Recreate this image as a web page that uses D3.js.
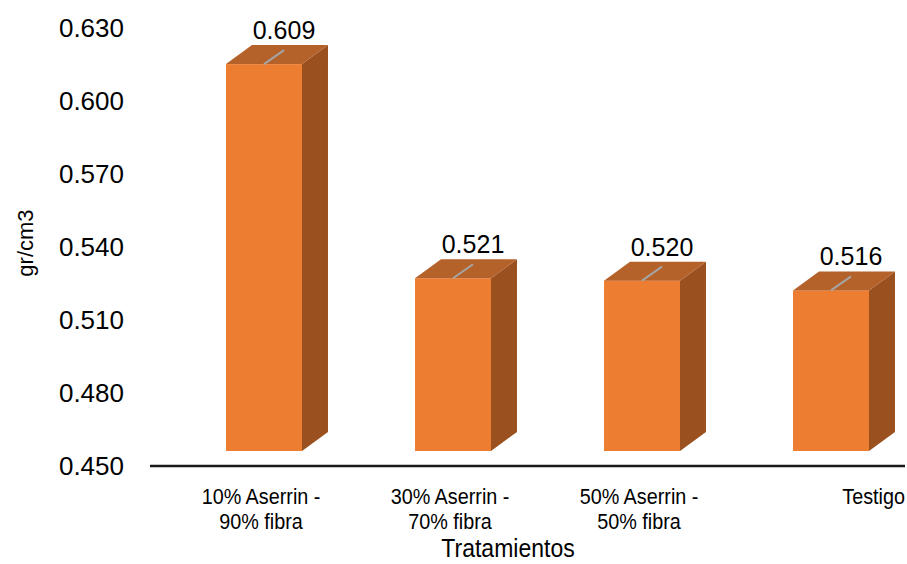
<!DOCTYPE html>
<html>
<head>
<meta charset="utf-8">
<script src="https://cdn.jsdelivr.net/npm/d3@7"></script>
<style>
  html, body { margin: 0; padding: 0; background: #fff; }
  svg { display: block; font-family: "Liberation Sans", Arial, sans-serif; }
</style>
</head>
<body>
<svg id="chart" width="907" height="564"></svg>
<script>
// Density per treatment (gr/cm3)
const categories = [
  ["10% Aserrin -", "90% fibra"],
  ["30% Aserrin -", "70% fibra"],
  ["50% Aserrin -", "50% fibra"],
  ["Testigo"]
];
const values = [0.609, 0.521, 0.520, 0.516];
const yTicks = [0.450, 0.480, 0.510, 0.540, 0.570, 0.600, 0.630];
const yTitle = "gr/cm3";
const xTitle = "Tratamientos";

const W = 907, H = 564;
const svg = d3.select("#chart");

const y = d3.scaleLinear().domain([0.45, 0.63]).range([466, 28]);
const x = d3.scaleBand()
  .domain(d3.range(categories.length))
  .range([169.5, 925.5])
  .paddingInner(0.598)
  .paddingOuter(0.299);

// 3D projection of each bar: floor raised above the axis, depth up-right
const lift = 15, depthX = 26, depthY = -19;
const colFront = "#ED7D31", colTop = "#B5612A", colSide = "#9A511F";

const bars = svg.append("g").selectAll("g")
  .data(values)
  .join("g");

bars.each(function (v, i) {
  const g = d3.select(this);
  const x0 = x(i), x1 = x(i) + x.bandwidth();
  const yt = y(v) - lift, yb = y(0.45) - lift;
  g.append("rect")
    .attr("x", x0).attr("y", yt)
    .attr("width", x1 - x0).attr("height", yb - yt)
    .attr("fill", colFront);
  g.append("path")
    .attr("d", `M${x1},${yt}L${x1 + depthX},${yt + depthY}L${x1 + depthX},${yb + depthY}L${x1},${yb}Z`)
    .attr("fill", colSide);
  g.append("path")
    .attr("d", `M${x0},${yt}L${x1},${yt}L${x1 + depthX},${yt + depthY}L${x0 + depthX},${yt + depthY}Z`)
    .attr("fill", colTop);

  // leader line and value label
  const cx = (x0 + x1) / 2;
  const ex = cx + 20, ey = yt - 14;
  g.append("line")
    .attr("x1", cx).attr("y1", yt)
    .attr("x2", ex).attr("y2", ey)
    .attr("stroke", "#A5A5A5").attr("stroke-width", 2);
  g.append("text")
    .attr("x", ex).attr("y", ey - 11)
    .attr("text-anchor", "middle")
    .attr("font-size", 25)
    .attr("fill", "#000")
    .text(d3.format(".3f")(v));
});

// Category axis line
svg.append("line")
  .attr("x1", 150).attr("x2", 905)
  .attr("y1", y(0.45)).attr("y2", y(0.45))
  .attr("stroke", "#1a1a1a").attr("stroke-width", 2.5);

// Value axis tick labels
const yAxis = d3.axisLeft(y).tickValues(yTicks).tickFormat(d3.format(".3f")).tickSize(0).tickPadding(0);
const ya = svg.append("g").attr("transform", "translate(124,0)").call(yAxis);
ya.select(".domain").remove();
ya.selectAll("text").attr("font-size", 26).attr("fill", "#000")
  .attr("font-family", "'Liberation Sans', Arial, sans-serif");

// Category labels (slightly condensed type)
const condense = 0.9;
categories.forEach((lines, i) => {
  const last = lines.length === 1 && i === categories.length - 1;
  // a single-line label on the last category sits flush with the right edge
  const ax = last ? W - 2 : x(i) + x.bandwidth() / 2 - 3;
  const t = svg.append("g")
    .attr("transform", `translate(${ax},0) scale(${condense},1)`)
    .append("text")
    .attr("text-anchor", last ? "end" : "middle")
    .attr("font-size", 22)
    .attr("fill", "#000");
  lines.forEach((ln, k) => {
    t.append("tspan").attr("x", 0).attr("y", 504 + k * 25).text(ln);
  });
});

// Axis titles
svg.append("g")
  .attr("transform", `translate(508,0) scale(0.92,1)`)
  .append("text")
  .attr("x", 0).attr("y", 557)
  .attr("text-anchor", "middle")
  .attr("font-size", 25)
  .attr("fill", "#000")
  .text(xTitle);

svg.append("text")
  .attr("transform", "translate(33,243) rotate(-90)")
  .attr("text-anchor", "middle")
  .attr("font-size", 22)
  .attr("fill", "#000")
  .text(yTitle);
</script>
</body>
</html>
